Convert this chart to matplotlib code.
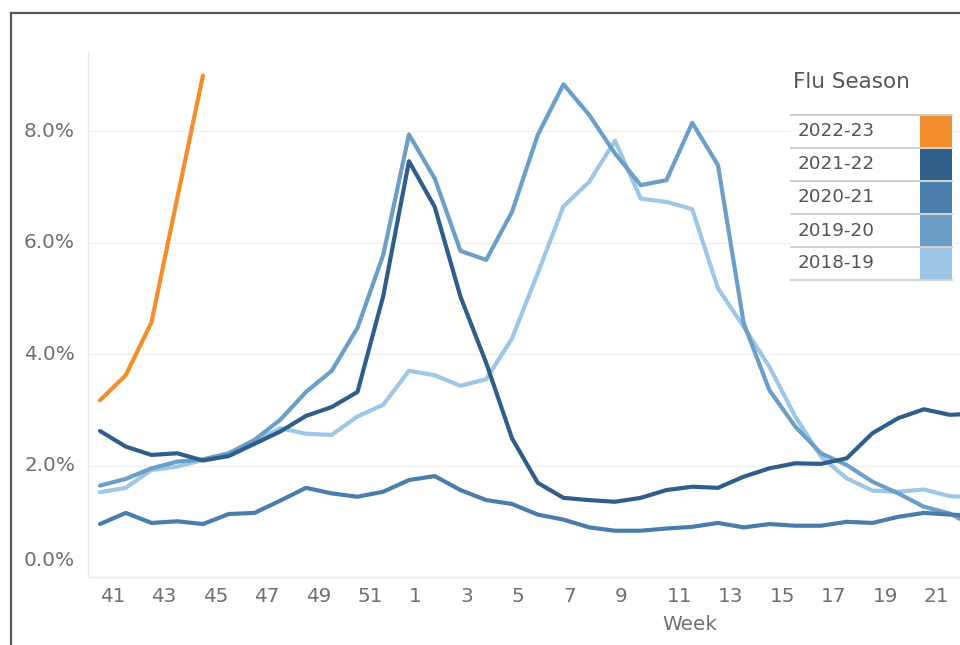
import numpy as np
import matplotlib
matplotlib.use("Agg")
import matplotlib.pyplot as plt
from matplotlib.lines import Line2D
from matplotlib.patches import Rectangle

# Données (% de visites)
weeks = list(range(41, 53)) + list(range(1, 24))

s2223 = [3.17, 3.62, 4.57, 6.80, 9.00]
s2122 = [2.62, 2.34, 2.19, 2.22, 2.09, 2.17, 2.39, 2.61, 2.89, 3.05, 3.32, 5.04,
         7.46, 6.64, 5.03, 3.84, 2.49, 1.69, 1.42, 1.38, 1.35, 1.42, 1.56, 1.62,
         1.60, 1.80, 1.95, 2.04, 2.03, 2.13, 2.58, 2.85, 3.01, 2.91, 2.93]
s2021 = [0.95, 1.15, 0.97, 1.00, 0.95, 1.13, 1.15, 1.37, 1.60, 1.50, 1.44, 1.53,
         1.74, 1.81, 1.56, 1.38, 1.31, 1.12, 1.03, 0.89, 0.83, 0.83, 0.87, 0.90,
         0.97, 0.89, 0.95, 0.92, 0.92, 0.99, 0.97, 1.08, 1.15, 1.12, 1.10]
s1920 = [1.64, 1.76, 1.95, 2.07, 2.11, 2.22, 2.46, 2.82, 3.32, 3.70, 4.47, 5.78,
         7.94, 7.15, 5.85, 5.69, 6.55, 7.93, 8.84, 8.29, 7.60, 7.03, 7.12, 8.15,
         7.39, 4.55, 3.35, 2.70, 2.22, 2.01, 1.71, 1.50, 1.26, 1.14, 0.90]
s1819 = [1.52, 1.60, 1.92, 1.98, 2.10, 2.22, 2.43, 2.67, 2.57, 2.55, 2.88, 3.09,
         3.70, 3.62, 3.43, 3.55, 4.28, 5.45, 6.65, 7.09, 7.83, 6.79, 6.73, 6.60,
         5.18, 4.49, 3.77, 2.88, 2.16, 1.77, 1.55, 1.53, 1.57, 1.45, 1.43]

seasons = ["2022-23", "2021-22", "2020-21", "2019-20", "2018-19"]
series = [s2223, s2122, s2021, s1920, s1819]
colors = ["#F28E2B", "#2F5E8B", "#4A7CAC", "#6B9FC8", "#9DC7E5"]

y_ticks = [0, 2, 4, 6, 8]

W, H = 960, 645
def fx(x):
    return x / W
def fy(y):
    return 1 - y / H

fig = plt.figure(figsize=(W / 100, H / 100), dpi=100)
ax = fig.add_axes([fx(88), fy(577), (960 - 88) / W, (577 - 52) / H])

idx = np.arange(len(weeks))

# ordre : plus ancienne dessous
for name, vals, col in reversed(list(zip(seasons, series, colors))):
    ax.plot(idx[:len(vals)], vals, color=col, lw=3,
            solid_joinstyle="round", solid_capstyle="round")

ax.set_xlim(-0.466, 33.4)
ax.set_ylim(0, 9.42)

for s in ["top", "right"]:
    ax.spines[s].set_visible(False)
for s in ["left", "bottom"]:
    ax.spines[s].set_color("#e8e8e8")
    ax.spines[s].set_linewidth(1)

for v in y_ticks[1:]:
    ax.axhline(v, color="#f0f0f0", lw=1, zorder=0)

ax.set_yticks([])
for v in y_ticks:
    dy = 17 if v == 0 else 0
    ax.annotate(f"{v:.1f}%", xy=(0, v), xycoords=("axes fraction", "data"),
                xytext=(-13 * 0.72, dy * 0.72), textcoords="offset points",
                ha="right", va="center", fontsize=14.4, color="#707070")

ax.set_xticks(idx[:33:2])
ax.set_xticklabels([str(w) for w in weeks[:33:2]], ha="left",
                   fontsize=14.4, color="#707070")
ax.tick_params(axis="x", length=0, pad=7)

fig.text(fx(690), fy(625), "Week", ha="center", va="center",
         fontsize=14.4, color="#707070")

# Légende faite main
fig.text(fx(793), fy(82), "Flu Season", ha="left", va="center",
         fontsize=15.5, color="#555555")
row_top = 115
row_h = 33
fig.add_artist(Rectangle((fx(791), fy(row_top + row_h * 5)), (952 - 791) / W,
                         row_h * 5 / H, transform=fig.transFigure,
                         facecolor="white", edgecolor="none", zorder=4))
for k, (name, col) in enumerate(zip(seasons, colors)):
    top = row_top + k * row_h
    fig.add_artist(Rectangle((fx(920), fy(top + row_h - 1)), 32 / W,
                             (row_h - 2) / H, transform=fig.transFigure,
                             facecolor=col, edgecolor="none", zorder=5))
    fig.text(fx(798), fy(top + row_h / 2), name, ha="left", va="center",
             fontsize=13.2, color="#555555", zorder=6)
for k in range(6):
    y = row_top + k * row_h
    fig.add_artist(Line2D([fx(791), fx(952)], [fy(y), fy(y)],
                          transform=fig.transFigure, color="#cccccc",
                          lw=1.3, zorder=6))

# Cadre (coupé à droite et en bas)
fig.add_artist(Line2D([fx(11), fx(960)], [fy(13), fy(13)],
                      transform=fig.transFigure, color="#555555", lw=1.6, zorder=7))
fig.add_artist(Line2D([fx(11), fx(11)], [fy(13), fy(645)],
                      transform=fig.transFigure, color="#555555", lw=1.6, zorder=7))

fig.savefig("out.png", dpi=100)
